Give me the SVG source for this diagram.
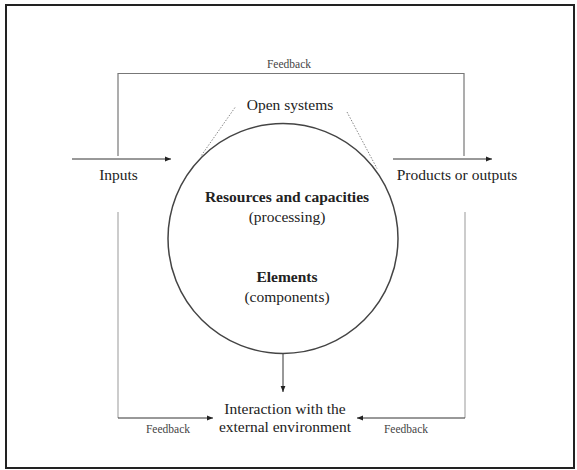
<svg xmlns="http://www.w3.org/2000/svg" width="577" height="470" viewBox="0 0 577 470">
<style>
text{font-family:"Liberation Serif","Times New Roman",serif;fill:#222;text-anchor:middle}
.m{font-size:15.5px}
.b{font-size:15.5px;font-weight:bold}
.s{font-size:11.5px;fill:#444}
.fb{fill:none;stroke:#777;stroke-width:1.2}
.fl{fill:none;stroke:#aaa;stroke-width:1.2}
.ar{fill:none;stroke:#333;stroke-width:1;marker-end:url(#ah)}
.dot{fill:none;stroke:#888;stroke-width:1;stroke-dasharray:1.5 1.5}
</style>
<defs>
<marker id="ah" viewBox="0 0 10 10" refX="10" refY="5" markerWidth="6" markerHeight="6" markerUnits="userSpaceOnUse" orient="auto">
<path d="M0,1 L10,5 L0,9 z" fill="#222"/>
</marker>
</defs>
<rect x="6" y="5" width="568" height="463" fill="#fff" stroke="#222" stroke-width="2"/>
<g id="connectors">
<polyline class="fb" points="118,156 118,73.5 464,73.5 464,156"/>
<line class="ar" x1="72" y1="159" x2="171" y2="159"/>
<line class="ar" x1="393" y1="159" x2="492" y2="159"/>
<polyline class="fl" points="118,212 118,418"/>
<line class="ar" x1="118" y1="418" x2="213" y2="418"/>
<polyline class="fl" points="465,212 465,418"/>
<line class="ar" x1="465" y1="418" x2="357" y2="418"/>
<line class="ar" x1="283" y1="353.5" x2="283" y2="392"/>
<line class="dot" x1="235" y1="107.5" x2="201" y2="156"/>
<line class="dot" x1="347" y1="112" x2="377" y2="168.5"/>
</g>
<g id="system">
<circle cx="283" cy="238.5" r="115" fill="none" stroke="#444" stroke-width="1.5"/>
<text class="b" x="287" y="201.5">Resources and capacities</text>
<text class="m" x="287" y="221.5">(processing)</text>
<text class="b" x="287" y="282">Elements</text>
<text class="m" x="287" y="302">(components)</text>
</g>
<g id="open-systems"><text class="m" x="290" y="110">Open systems</text></g>
<g id="inputs"><text class="m" x="118.5" y="180">Inputs</text></g>
<g id="outputs"><text class="m" x="457" y="180">Products or outputs</text></g>
<g id="environment">
<text class="m" x="285" y="414">Interaction with the</text>
<text class="m" x="285" y="432">external environment</text>
</g>
<g id="feedback-top"><text class="s" x="289" y="67.5">Feedback</text></g>
<g id="feedback-left"><text class="s" x="168" y="432.5">Feedback</text></g>
<g id="feedback-right"><text class="s" x="406" y="433">Feedback</text></g>
</svg>
